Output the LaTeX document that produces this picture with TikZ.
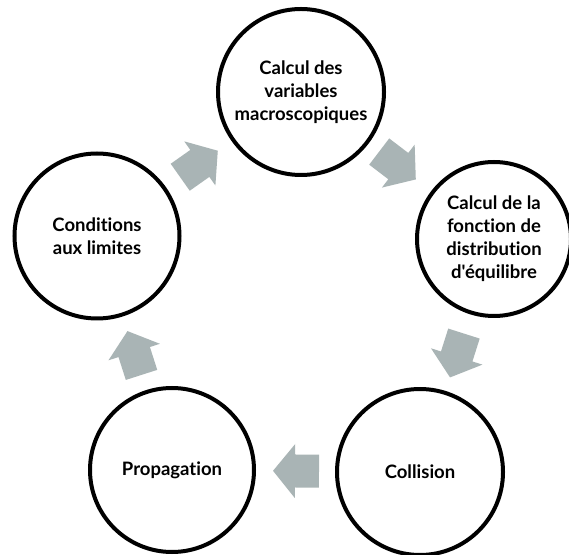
\documentclass[tikz,border=0pt]{standalone}
\usepackage{fontspec}
\setmainfont{Lato}[Ligatures={TeXOff,NoCommon}]
\usetikzlibrary{calc}
\definecolor{arrowgray}{RGB}{169,180,181}
\newcommand\cyclearrow[2]{%
  \coordinate (am) at ($(#1)!0.5!(#2)$);
  \coordinate (at) at ($(am)!23pt!(#2)$);
  \coordinate (ab) at ($(am)!23pt!(#1)$);
  \coordinate (ah) at ($(at)!22pt!(#1)$);
  \fill[arrowgray]
    ($(ab)!16.5pt!90:(#2)$) -- ($(ah)!16.5pt!90:(#2)$) -- ($(ah)!27pt!90:(#2)$) --
    (at) --
    ($(ah)!27pt!-90:(#2)$) -- ($(ah)!16.5pt!-90:(#2)$) -- ($(ab)!16.5pt!-90:(#2)$) -- cycle;
}
\begin{document}
\begin{tikzpicture}[x=1pt,y=1pt,
  stage/.style={circle, draw=black, line width=4pt, inner sep=0pt, align=center,
    minimum size=166pt, font=\bfseries\fontsize{18.5}{23}\selectfont}]
\useasboundingbox[fill=white] (0,0) rectangle (569,554);
\node[stage] (T) at (301,462) {Calcul des\\variables\\macroscopiques};
\node[stage, minimum size=154pt] (R) at (494,315) {Calcul de la\\fonction de\\distribution\\d'équilibre};
\node[stage] (C) at (420,82) {Collision};
\node[stage, minimum size=164pt] (P) at (172,84) {Propagation};
\node[stage, minimum size=165pt] (L) at (97,318) {Conditions\\aux limites};
\cyclearrow{L}{T}
\cyclearrow{T}{R}
\cyclearrow{R}{C}
\cyclearrow{C}{P}
\cyclearrow{P}{L}
\end{tikzpicture}
\end{document}
